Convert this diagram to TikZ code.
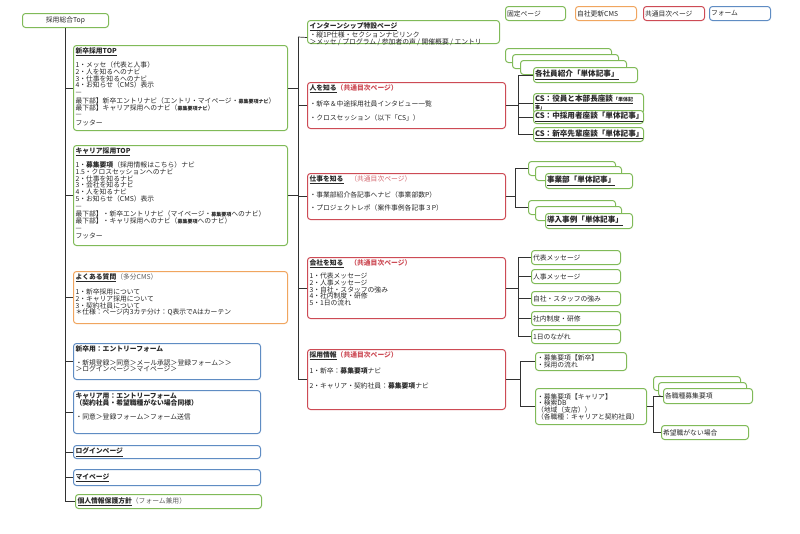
\documentclass[tikz,border=0pt]{standalone}
\usepackage{fontspec}
\setmainfont{Noto Sans CJK JP}
\usepackage{tikz}
\usepackage{color}

\definecolor{fixgreen}{RGB}{128,186,88}
\definecolor{cmsorange}{RGB}{240,165,95}
\definecolor{indexred}{RGB}{205,75,85}
\definecolor{formblue}{RGB}{95,140,195}
\definecolor{linegray}{RGB}{50,50,50}
\definecolor{textgray}{RGB}{40,40,40}

\newcommand{\basefont}{\fontsize{6.8}{6.7}\selectfont\lineskiplimit=-4pt\relax}
\newcommand{\articlefont}{\fontsize{7.6}{8}\selectfont\bfseries}
\newcommand{\boxtext}[3]{\parbox[t][#2][t]{#1}{\raggedright #3}}
\newcommand{\pagetitle}[1]{\textbf{\underline{#1}}}
\newcommand{\idxlabel}{{\color{indexred}\textbf{（共通目次ページ）}}}
\newcommand{\smalltext}[1]{{\fontsize{5}{6.7}\selectfont #1}}
\newcommand{\notetext}[1]{{\color{textgray!75}#1}}

\begin{document}
\begin{tikzpicture}[x=1pt,y=-1pt,line width=0.7pt,
  every node/.style={font=\basefont,text=textgray},
  page/.style={draw,rounded corners=3pt,line width=1pt,fill=white,inner sep=2pt,anchor=north west,align=left},
  fixed page/.style={page,draw=fixgreen},
  cms page/.style={page,draw=cmsorange},
  index page/.style={page,draw=indexred},
  form page/.style={page,draw=formblue},
  leaf/.style 2 args={fixed page,inner sep=1.5pt,text width=#1,minimum height=#2}]

  \path[use as bounding box,fill=white] (0,0) rectangle (800,533);

  \node[fixed page,inner sep=1.5pt,text width=57pt,minimum height=14pt] (legfixed) at (505,6) {固定ページ};
  \node[cms page,inner sep=1.5pt,text width=58pt,minimum height=14pt] (legcms) at (575,6) {自社更新CMS};
  \node[index page,inner sep=1.5pt,text width=58pt,minimum height=14pt] (legindex) at (643,6) {共通目次ページ};
  \node[form page,inner sep=1.5pt,text width=58pt,minimum height=14pt] (legform) at (709,6) {フォーム};

  \node[fixed page,text width=82pt,minimum height=14pt,align=center] (root) at (22,13) {採用総合Top};

  \node[fixed page] (shinsotsu) at (73,45) {\boxtext{210pt}{81pt}{\pagetitle{新卒採用TOP}\\[5pt]
    1・メッセ（代表と人事）\\
    2・人を知るへのナビ\\
    3・仕事を知るへのナビ\\
    4・お知らせ（CMS）表示\\
    —\\[2pt]
    最下部】新卒エントリナビ（エントリ・マイページ・\smalltext{\textbf{募集要項ナビ}}）\\
    最下部】キャリア採用へのナビ（\smalltext{\textbf{募集要項ナビ}}）\\
    —\\[2pt]
    フッター}};
  \node[fixed page] (career) at (73,145) {\boxtext{210pt}{96pt}{\pagetitle{キャリア採用TOP}\\[5pt]
    1・\textbf{募集要項}（採用情報はこちら）ナビ\\
    1.5・クロスセッションへのナビ\\
    2・仕事を知るナビ\\
    3・会社を知るナビ\\
    4・人を知るナビ\\
    5・お知らせ（CMS）表示\\
    —\\[2pt]
    最下部】・新卒エントリナビ（マイページ・\smalltext{\textbf{募集要項}}へのナビ）\\
    最下部】・キャリ採用へのナビ（\smalltext{\textbf{募集要項}}へのナビ）\\
    —\\[2pt]
    フッター}};
  \node[cms page] (faq) at (73,271) {\boxtext{210pt}{48pt}{\pagetitle{よくある質問}\notetext{（多分CMS）}\\[6pt]
    1・新卒採用について\\
    2・キャリア採用について\\
    3・契約社員について\\
    ＊仕様：ページ内3カテ分け：Q表示でAはカーテン}};
  \node[form page] (entryshin) at (73,343) {\boxtext{183pt}{32pt}{\textbf{新卒用：エントリーフォーム}\\[7pt]
    ・新規登録＞同意＞メール承認＞登録フォーム＞＞\\
    ＞ログインページ＞マイページ＞}};
  \node[form page] (entrycar) at (73,390) {\boxtext{183pt}{39pt}{\textbf{キャリア用：エントリーフォーム}\\
    \textbf{（契約社員・希望職種がない場合同様）}\\[7pt]
    ・同意＞登録フォーム＞フォーム送信}};
  \node[form page,text width=183pt,minimum height=13pt] (login) at (73,445) {\pagetitle{ログインページ}};
  \node[form page,text width=183pt,minimum height=16pt] (mypage) at (73,469) {\pagetitle{マイページ}};
  \node[fixed page,text width=182pt,minimum height=14pt] (privacy) at (75,494) {\pagetitle{個人情報保護方針}\notetext{（フォーム兼用）}};

  \node[fixed page] (intern) at (307,20) {\boxtext{188pt}{19pt}{\pagetitle{インターンシップ特設ページ}\\
    ・縦1P仕様・セクションナビリンク\\
    ＞メッセ / プログラム / 参加者の声 / 開催概要 / エントリ}};
  \node[index page] (hito) at (307,82) {\boxtext{194pt}{42pt}{\pagetitle{人を知る}\idxlabel\\[7pt]
    ・新卒＆中途採用社員インタビュー一覧\\[7pt]
    ・クロスセッション（以下「CS」）}};
  \node[index page] (shigoto) at (307,173) {\boxtext{194pt}{42pt}{\pagetitle{仕事を知る}\quad{\color{indexred!85}（共通目次ページ）}\\[7pt]
    ・事業部紹介各記事へナビ（事業部数P）\\[6pt]
    ・プロジェクトレポ（案件事例各記事３P）}};
  \node[index page] (kaisha) at (307,257) {\boxtext{194pt}{57pt}{\pagetitle{会社を知る}\quad\idxlabel\\[4pt]
    1・代表メッセージ\\
    2・人事メッセージ\\
    3・自社・スタッフの強み\\
    4・社内制度・研修\\
    5・1日の流れ}};
  \node[index page] (saiyo) at (307,349) {\boxtext{194pt}{56pt}{\pagetitle{採用情報}\idxlabel\\[7pt]
    1・新卒：\textbf{募集要項}ナビ\\[8pt]
    2・キャリア・契約社員：\textbf{募集要項}ナビ}};

  \node[fixed page,minimum width=106pt,minimum height=14pt] (shain1) at (505,48) {};
  \node[fixed page,minimum width=106pt,minimum height=14pt] (shain2) at (512,54) {};
  \node[fixed page,minimum width=106pt,minimum height=14pt] (shain3) at (520,60) {};
  \node[leaf={101pt}{15pt},font=\articlefont] (shain) at (533,67) {\underline{各社員紹介「単体記事」}};
  \node[leaf={107pt}{14pt},font=\fontsize{7.6}{5.5}\selectfont\bfseries] (csyaku) at (533,93) {\underline{CS：役員と本部長座談{\fontsize{5}{5}\selectfont「単体記}}\\{\fontsize{5}{5}\selectfont\underline{事」}}};
  \node[leaf={107pt}{13pt},font=\articlefont] (cschu) at (533,110) {\underline{CS：中採用者座談「単体記事」}};
  \node[leaf={107pt}{14pt},font=\articlefont] (csshin) at (533,127) {\underline{CS：新卒先輩座談「単体記事」}};

  \node[fixed page,minimum width=87pt,minimum height=14pt] (jigyo1) at (528,161) {};
  \node[fixed page,minimum width=86pt,minimum height=14pt] (jigyo2) at (535,166) {};
  \node[leaf={84pt}{15pt},font=\articlefont] (jigyo) at (545,173) {\underline{事業部「単体記事」}};
  \node[fixed page,minimum width=87pt,minimum height=14pt] (donyu1) at (528,200) {};
  \node[fixed page,minimum width=86pt,minimum height=14pt] (donyu2) at (535,206) {};
  \node[leaf={84pt}{15pt},font=\articlefont] (donyu) at (545,213) {\underline{導入事例「単体記事」}};

  \node[leaf={86pt}{14pt}] (daihyo) at (531,250) {代表メッセージ};
  \node[leaf={86pt}{14pt}] (jinji) at (531,269) {人事メッセージ};
  \node[leaf={86pt}{14pt}] (tsuyomi) at (531,291) {自社・スタッフの強み};
  \node[leaf={86pt}{14pt}] (seido) at (531,311) {社内制度・研修};
  \node[leaf={86pt}{14pt}] (ichinichi) at (531,329) {1日のながれ};

  \node[leaf={88pt}{18pt}] (boshin) at (535,352) {・募集要項【新卒】\\・採用の流れ};
  \node[leaf={108pt}{36pt}] (bocar) at (535,388) {・募集要項【キャリア】\\・検索DB\\（地域（支店））\\（各職種：キャリアと契約社員）};

  \node[fixed page,minimum width=87pt,minimum height=14pt] (shokushu1) at (653,376) {};
  \node[fixed page,minimum width=88pt,minimum height=14pt] (shokushu2) at (658,382) {};
  \node[leaf={86pt}{15pt}] (shokushu) at (663,388) {各職種募集要項};
  \node[leaf={84pt}{14pt}] (kibo) at (661,425) {希望職がない場合};

  \coordinate (rt) at (298,37);
  \coordinate (hitoj) at (518,105);
  \coordinate (shigotoj) at (515,196);
  \coordinate (kaishaj) at (518,288);
  \coordinate (saiyoj) at (520,379);
  \coordinate (bocarj) at (653,406);

  \draw[linegray] (root.south) -- (root.south |- privacy.west);
  \foreach \n in {shinsotsu,career,faq,entryshin,entrycar,login,mypage,privacy}
    \draw[linegray] (root.south |- \n.west) -- (\n.west);

  \draw[linegray] (rt) -- (rt |- saiyo.west);
  \draw[linegray] (rt) -- ([yshift=-5.5pt]intern.west);
  \foreach \n in {shinsotsu,career}
    \draw[linegray] (\n.east) -- (\n.east -| rt);
  \foreach \n in {hito,shigoto,kaisha,saiyo}
    \draw[linegray] (rt |- \n.west) -- (\n.west);

  \draw[linegray,line width=1.1pt] (hito.east) -- (hito.east -| hitoj);
  \draw[linegray] (hitoj |- shain.west) -- (hitoj |- csshin.west);
  \foreach \n in {shain,csyaku,cschu,csshin}
    \draw[linegray] (hitoj |- \n.west) -- (\n.west);

  \draw[linegray] (shigoto.east) -- (shigoto.east -| shigotoj);
  \draw[linegray] (shigotoj |- jigyo1.west) -- (shigotoj |- donyu1.west);
  \foreach \n in {jigyo1,donyu1}
    \draw[linegray] (shigotoj |- \n.west) -- (\n.west);

  \draw[linegray] (kaisha.east) -- (kaisha.east -| kaishaj);
  \draw[linegray] (kaishaj |- daihyo.west) -- (kaishaj |- ichinichi.west);
  \foreach \n in {daihyo,jinji,tsuyomi,seido,ichinichi}
    \draw[linegray] (kaishaj |- \n.west) -- (\n.west);

  \draw[linegray] (saiyo.east) -- (saiyo.east -| saiyoj);
  \draw[linegray] (saiyoj |- boshin.west) -- (saiyoj |- bocar.west);
  \foreach \n in {boshin,bocar}
    \draw[linegray] (saiyoj |- \n.west) -- (\n.west);

  \draw[linegray] (bocar.east) -- (bocar.east -| bocarj);
  \draw[linegray] (bocarj |- shokushu.west) -- (bocarj |- kibo.west);
  \foreach \n in {shokushu,kibo}
    \draw[linegray] (bocarj |- \n.west) -- (\n.west);

\end{tikzpicture}
\end{document}
